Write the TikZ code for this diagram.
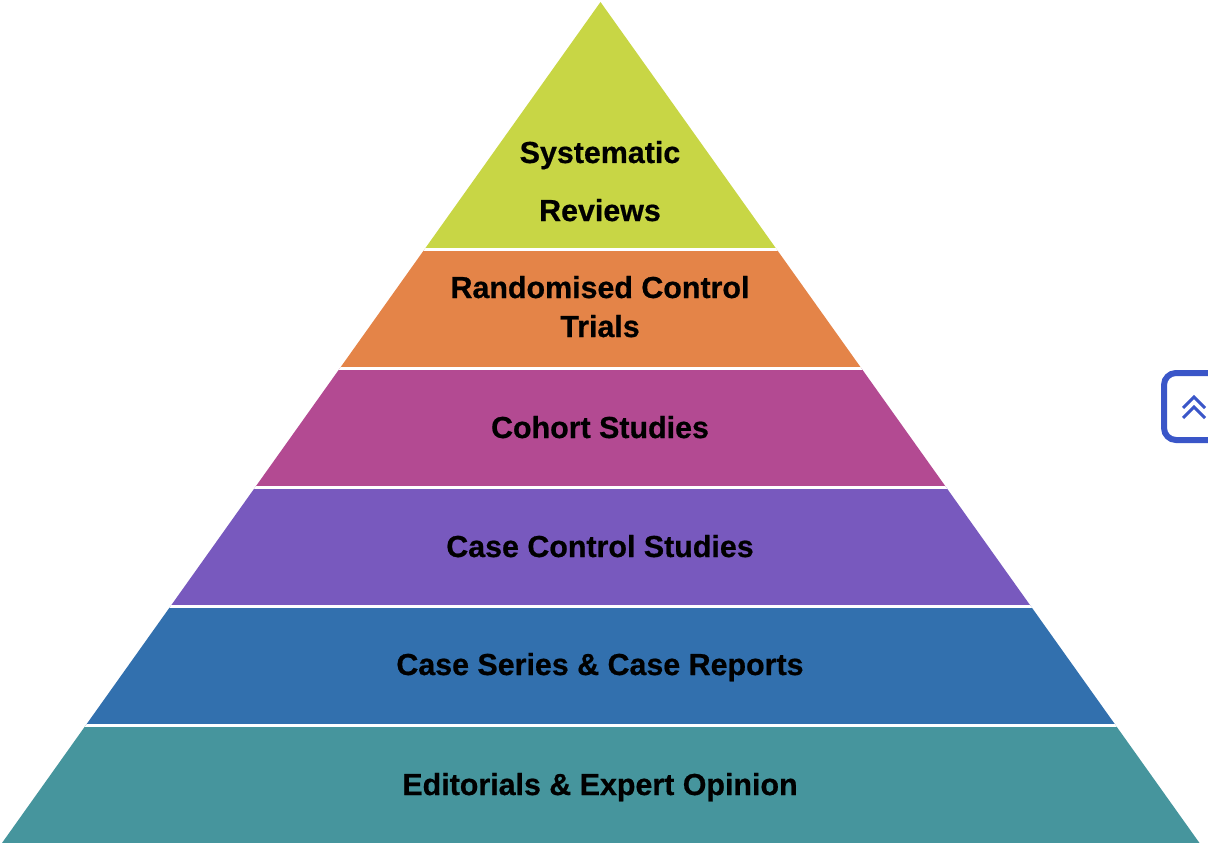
\documentclass[tikz,border=0pt]{standalone}
\usepackage{fontspec}
\setmainfont{Liberation Sans}
\newfontfamily\heavyfont[FakeBold=0.6]{Liberation Sans Bold}
\definecolor{cgreen}{HTML}{C8D645}
\definecolor{corange}{HTML}{E48448}
\definecolor{cmagenta}{HTML}{B34A92}
\definecolor{cpurple}{HTML}{7859BE}
\definecolor{cblue}{HTML}{3270AE}
\definecolor{cteal}{HTML}{46959D}
\definecolor{cbtn}{HTML}{3A56C8}
\begin{document}
\begin{tikzpicture}[x=1pt,y=-1pt,
  lbl/.style={font=\fontsize{30.4}{30.4}\heavyfont, text=black, inner sep=0pt, anchor=base}]
\useasboundingbox (0,0) rectangle (1208,864);
\begin{scope}
  \clip (600.5,2) -- (1199.5,843) -- (2,843) -- cycle;
  \fill[cgreen]   (0,0)   rectangle (1208,249);
  \fill[corange]  (0,249) rectangle (1208,368);
  \fill[cmagenta] (0,368) rectangle (1208,487);
  \fill[cpurple]  (0,487) rectangle (1208,606);
  \fill[cblue]    (0,606) rectangle (1208,725);
  \fill[cteal]    (0,725) rectangle (1208,843);
  \foreach \yy in {249,368,487,606,725}
    \draw[white, line width=3pt] (0,\yy) -- (1208,\yy);
\end{scope}
\node[lbl] (t1a) at (600,163) {Systematic};
\node[lbl] (t1b) at (600,221) {Reviews};
\node[lbl] (t2a) at (600,298) {Randomised Control};
\node[lbl] (t2b) at (600,337) {Trials};
\node[lbl] (t3) at (600,438) {Cohort Studies};
\node[lbl] (t4) at (600,557) {Case Control Studies};
\node[lbl] (t5) at (600,675) {Case Series \& Case Reports};
\node[lbl] (t6) at (600,795) {Editorials \& Expert Opinion};
% scroll button
\draw[cbtn, line width=6pt, rounded corners=12pt] (1164,373) rectangle (1240,440);
\draw[cbtn, line width=3pt] (1183,408) -- (1194,397) -- (1205,408);
\draw[cbtn, line width=3pt] (1183,418) -- (1194,407) -- (1205,418);
\end{tikzpicture}
\end{document}
